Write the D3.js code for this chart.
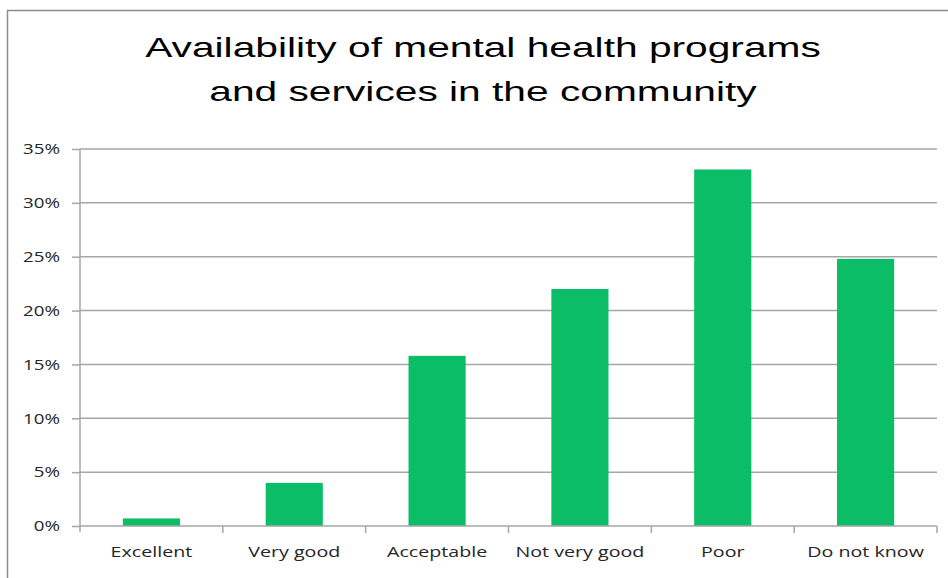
<!DOCTYPE html>
<html><head><meta charset="utf-8">
<script src="https://cdn.jsdelivr.net/npm/d3@7"></script>
<style>body{margin:0;background:#fff}svg{display:block}</style>
</head><body>
<svg id="c" width="948" height="578"></svg>
<script>
const categories = ["Excellent", "Very good", "Acceptable", "Not very good", "Poor", "Do not know"];
const values = [0.7, 4.0, 15.8, 22.0, 33.1, 24.8];
const yTicks = [0, 5, 10, 15, 20, 25, 30, 35];
const titleLines = ["Availability of mental health programs", "and services in the community"];

const svg = d3.select("#c");
const m = {left: 80, right: 937, top: 149, bottom: 526};

// frame
svg.append("path").attr("d", "M7.5,600 V10.5 H960")
  .attr("fill", "none").attr("stroke", "#8c8c8c").attr("stroke-width", 1.5);

const x = d3.scaleBand().domain(categories).range([m.left, m.right]).paddingInner(0.6).paddingOuter(0.3);
const xb = d3.scaleBand().domain(categories).range([m.left, m.right]);
const y = d3.scaleLinear().domain([0, 35]).range([m.bottom, m.top]);

function stretch(sel, k) {
  sel.each(function() {
    const w = this.getComputedTextLength();
    d3.select(this).attr("textLength", w * k).attr("lengthAdjust", "spacingAndGlyphs");
  });
}

// gridlines
svg.append("g").selectAll("line").data(yTicks.filter(d => d > 0)).join("line")
  .attr("x1", m.left).attr("x2", m.right)
  .attr("y1", d => y(d)).attr("y2", d => y(d))
  .attr("stroke", "#a6a6a6").attr("stroke-width", 1.5);

// y axis
const ya = svg.append("g").attr("transform", `translate(${m.left},0)`)
  .call(d3.axisLeft(y).tickValues(yTicks).tickFormat(d => d + "%").tickSize(8).tickPadding(12));
ya.select(".domain").attr("stroke", "#a6a6a6").attr("stroke-width", 1.5).attr("d", `M0,${m.top}V${m.bottom + 6}`);
ya.selectAll(".tick line").attr("stroke", "#a6a6a6").attr("stroke-width", 1.5);
ya.selectAll("text").attr("font-family", "'Open Sans', sans-serif").attr("font-size", 15).attr("fill", "#262626");
stretch(ya.selectAll("text"), 1.25);

// bars
svg.append("g").selectAll("rect").data(values).join("rect")
  .attr("x", (d, i) => x(categories[i]))
  .attr("width", x.bandwidth())
  .attr("y", d => y(d))
  .attr("height", d => y(0) - y(d))
  .attr("fill", "#0bbd66");

// x axis
const xa = svg.append("g").attr("transform", `translate(0,${m.bottom})`)
  .call(d3.axisBottom(xb).tickSize(0).tickPadding(20));
xa.select(".domain").attr("stroke", "#a6a6a6").attr("stroke-width", 1.5).attr("d", `M${m.left},0H${m.right}`);
xa.selectAll("text").attr("font-family", "'Open Sans', sans-serif").attr("font-size", 15).attr("fill", "#262626");
stretch(xa.selectAll("text"), 1.31);
// category separator ticks
svg.append("g").selectAll("line").data(categories).join("line")
  .attr("x1", d => xb(d) + xb.bandwidth()).attr("x2", d => xb(d) + xb.bandwidth())
  .attr("y1", m.bottom).attr("y2", m.bottom + 7)
  .attr("stroke", "#a6a6a6").attr("stroke-width", 1.5);

// title
const t = svg.append("g").selectAll("text").data(titleLines).join("text")
  .attr("x", 483).attr("y", (d, i) => 57 + i * 44)
  .attr("text-anchor", "middle")
  .attr("font-family", "'Liberation Sans', Arial, sans-serif").attr("font-size", 27.5)
  .attr("fill", "#000").text(d => d);
stretch(t, 1.48);
</script>
</body></html>
